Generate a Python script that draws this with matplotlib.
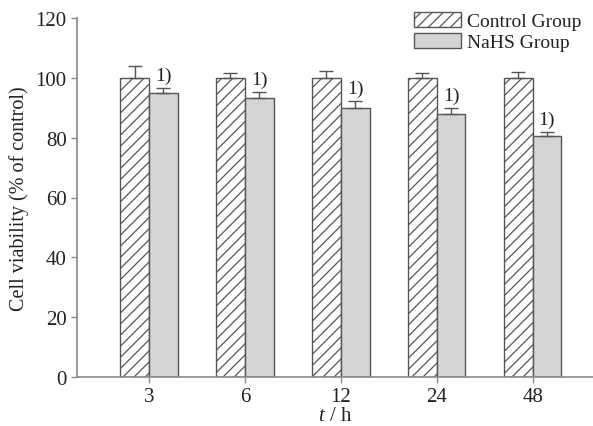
import matplotlib
matplotlib.use("Agg")
import matplotlib.pyplot as plt
import numpy as np

categories = ["3", "6", "12", "24", "48"]
control = [100, 100, 100, 100, 100]
control_err = [4.0, 1.7, 2.3, 1.6, 2.1]
nahs = [95.0, 93.2, 90.0, 87.8, 80.6]
nahs_err = [1.5, 2.2, 2.2, 2.2, 1.3]
marks = ["1)", "1)", "1)", "1)", "1)"]

plt.rcParams['font.family'] = ['Liberation Serif', 'DejaVu Serif']
plt.rcParams['mathtext.fontset'] = 'custom'
plt.rcParams['mathtext.it'] = 'Liberation Serif:italic'
plt.rcParams['mathtext.rm'] = 'Liberation Serif'
plt.rcParams['hatch.color'] = '#555555'
plt.rcParams['hatch.linewidth'] = 0.9

fig = plt.figure(figsize=(5.93, 4.27), dpi=100)
ax = fig.add_axes([77/593, 49/427, 1 - 77/593, (378-19)/427])

x = np.arange(len(categories))
w = 0.3
edge = '#555555'
ekw = dict(ecolor=edge, elinewidth=1.0, capsize=5, capthick=1.0)
ax.bar(x - w/2, control, w, yerr=[np.zeros(len(x)), control_err], color='white',
       edgecolor=edge, hatch='///', linewidth=1.0, label='Control Group', error_kw=ekw)
ax.bar(x + w/2, nahs, w, yerr=[np.zeros(len(x)), nahs_err], color='#d4d4d4',
       edgecolor=edge, linewidth=1.0, label='NaHS Group', error_kw=ekw)

for i in range(len(categories)):
    ax.text(x[i] + w/2, nahs[i] + nahs_err[i] + 1.3, marks[i], ha='center',
            va='bottom', fontsize=14, color='#222222')

ax.set_ylim(0, 120)
ax.set_yticks(range(0, 121, 20))
ax.set_xlim(-0.75, 4.63)
ax.set_xticks(x)
ax.set_xticklabels(categories)
for s in ['top', 'right']:
    ax.spines[s].set_visible(False)
for s in ['left', 'bottom']:
    ax.spines[s].set_color('#888888')
    ax.spines[s].set_linewidth(1.2)
ax.tick_params(axis='both', colors='#888888', labelcolor='#222222',
               labelsize=15, length=4, width=1.0)
ax.set_ylabel('Cell viability (% of control)', fontsize=14.5, color='#222222', labelpad=5)
ax.set_xlabel(r'$t$ / h', fontsize=15, color='#222222', labelpad=0)

leg = ax.legend(loc='upper right', bbox_to_anchor=(1.0, 1.05), frameon=False,
                fontsize=14, handlelength=2.4, handleheight=0.8,
                labelspacing=0.15, handletextpad=0.3, borderaxespad=0.2)
for t in leg.get_texts():
    t.set_color('#222222')

fig.savefig('out.png', dpi=100)
